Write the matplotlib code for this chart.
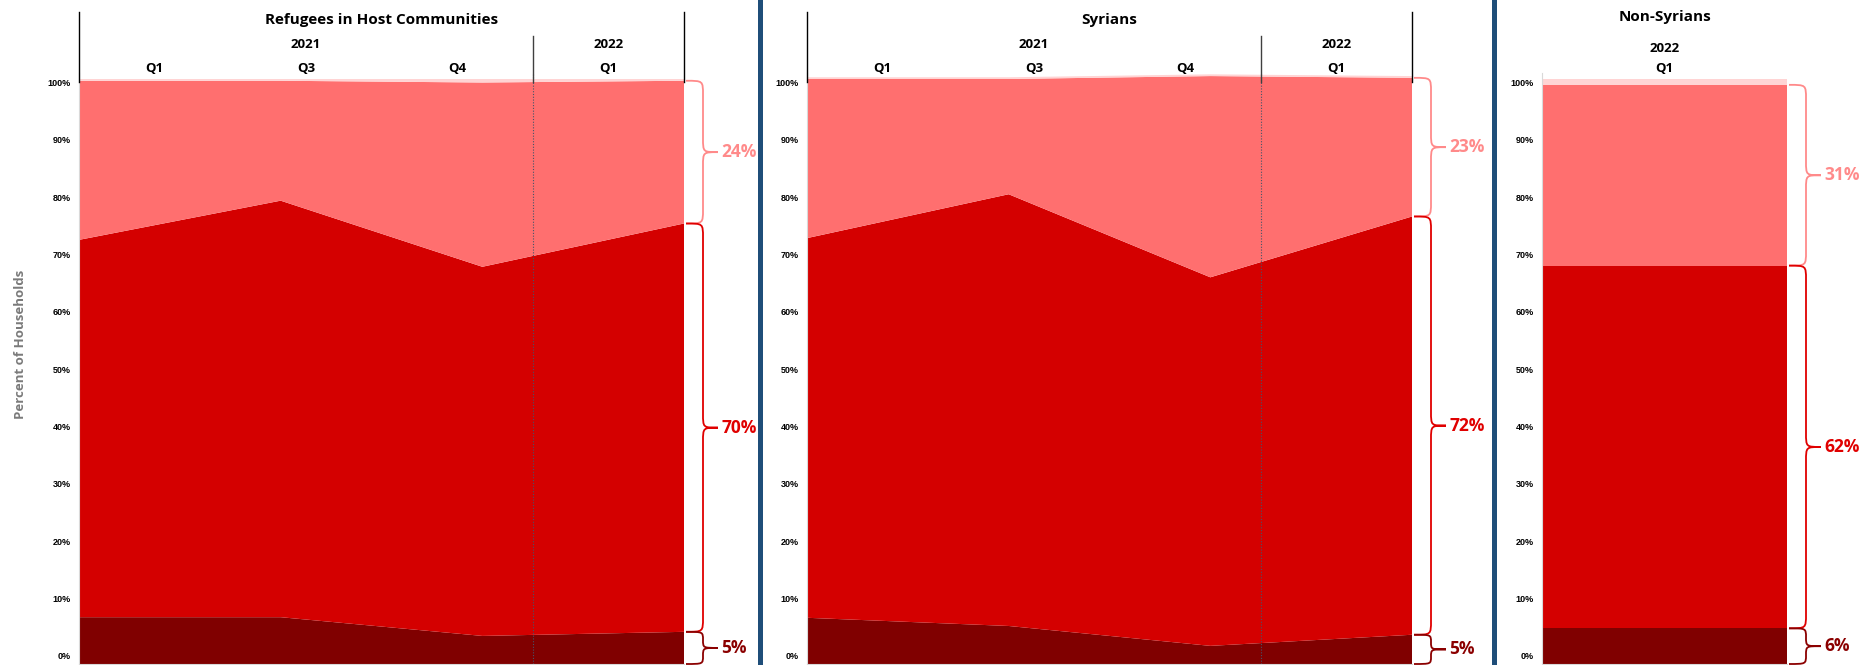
import numpy as np
import matplotlib.pyplot as plt
from matplotlib.path import Path
from matplotlib.patches import PathPatch
from matplotlib.lines import Line2D
from matplotlib.transforms import blended_transform_factory

# ---- data (percent of households, stacked bottom -> top) ----
quarters = ['Q1', 'Q3', 'Q4', 'Q1']
years = ['2021', '2022']

host_dark = [8.0, 8.0, 4.8, 5.5]
host_red = [64.5, 71.2, 63.1, 69.8]
host_salmon = [27.2, 20.5, 31.5, 24.4]
host_pink = [0.3, 0.3, 0.6, 0.3]
host_labels = ['5%', '70%', '24%']

syr_dark = [7.9, 6.5, 3.1, 5.0]
syr_red = [64.9, 73.8, 63.0, 71.5]
syr_salmon = [27.2, 19.7, 34.4, 23.7]
syr_pink = [0.3, 0.3, 0.3, 0.3]
syr_labels = ['5%', '72%', '23%']

non_dark = [6.1]
non_red = [62.0]
non_salmon = [30.9]
non_pink = [1.0]
non_labels = ['6%', '62%', '31%']

panel_titles = ['Refugees in Host Communities', 'Syrians', 'Non-Syrians']

c_dark = '#800000'
c_red = '#d40000'
c_salmon = '#ff6f6f'
c_pink = '#ffd4d4'
brace_colors = ['#8b0000', '#e00000', '#ff8a8a']

W, H = 1872, 665
Y0 = 664.0
PPU = 5.85
YMAX = 101.0

plt.rcParams['font.family'] = ['Open Sans', 'DejaVu Sans']

fig = plt.figure(figsize=(W / 100, H / 100), dpi=100)


def fy(py):
    return 1 - py / H


def add_axes(left, right):
    top = Y0 - YMAX * PPU
    return fig.add_axes([left / W, fy(Y0), (right - left) / W, (Y0 - top) / H])


def style_axes(ax):
    ax.set_ylim(0, YMAX)
    ks = np.arange(11)
    ax.set_yticks(1.42 + 9.795 * ks)
    ax.set_yticklabels(['%d%%' % (10 * k) for k in ks], fontfamily='Liberation Sans',
                       fontweight='bold', fontsize=6.5)
    ax.tick_params(axis='y', length=0, pad=6)
    ax.set_xticks([])
    for s in ['top', 'right']:
        ax.spines[s].set_visible(False)
    for s in ['left', 'bottom']:
        ax.spines[s].set_color('#d9d9d9')
        ax.spines[s].set_linewidth(0.8)


def to_fig(ax, x, v):
    p = ax.transData.transform((x, v))
    return fig.transFigure.inverted().transform(p)


def brace(ax, xr, v_top, v_bot, color, label):
    (fx0, ft), (_, fb) = to_fig(ax, xr, v_top), to_fig(ax, xr, v_bot)
    x0 = fx0 * W + 2
    yt, yb = (1 - ft) * H, (1 - fb) * H
    x1 = x0 + 17
    x2 = x0 + 32
    ym = (yt + yb) / 2
    r = min(14, (yb - yt) / 4)
    verts = [(x0, yt), (x1, yt), (x1, yt), (x1, yt + r),
             (x1, ym - r),
             (x1, ym), (x1, ym), (x2, ym),
             (x1, ym), (x1, ym), (x1, ym + r),
             (x1, yb - r),
             (x1, yb), (x1, yb), (x0, yb)]
    codes = [Path.MOVETO, Path.CURVE4, Path.CURVE4, Path.CURVE4, Path.LINETO,
             Path.CURVE4, Path.CURVE4, Path.CURVE4,
             Path.CURVE4, Path.CURVE4, Path.CURVE4, Path.LINETO,
             Path.CURVE4, Path.CURVE4, Path.CURVE4]
    verts = [(x / W, fy(y)) for x, y in verts]
    fig.add_artist(PathPatch(Path(verts, codes), facecolor='none', edgecolor=color,
                             lw=1.3, transform=fig.transFigure))
    fig.text((x2 + 3) / W, fy(ym), label, color=color, fontsize=12.5, fontweight='bold',
             ha='left', va='center')


def vline(px, top, bottom, **kw):
    fig.add_artist(Line2D([px / W, px / W], [fy(top), fy(bottom)], **kw))


def quarter_panel(left, right, title, dark, red, salmon, pink, labels):
    ax = add_axes(left, right)
    x = np.arange(len(dark))
    ax.stackplot(x, dark, red, salmon, pink, colors=[c_dark, c_red, c_salmon, c_pink], lw=0)
    ax.set_xlim(0, 3)
    style_axes(ax)
    ax.axvline(2.25, color='#44546a', ls=(0, (1, 1.5)), lw=0.8)
    tr = blended_transform_factory(ax.transData, fig.transFigure)
    ax.text(1.5, fy(20), title, transform=tr, ha='center', va='center',
            fontsize=11, fontweight='bold')
    ax.text(1.125, fy(45), years[0], transform=tr, ha='center', va='center',
            fontsize=9.5, fontweight='bold')
    ax.text(2.625, fy(45), years[1], transform=tr, ha='center', va='center',
            fontsize=9.5, fontweight='bold')
    for i, q in enumerate(quarters):
        ax.text(0.375 + 0.75 * i, fy(68), q, transform=tr, ha='center', va='center',
                fontsize=9.5, fontweight='bold')
    vline(left, 12, 82, color='black', lw=1)
    vline(right, 12, 82, color='black', lw=1)
    vline(left + 0.75 * (right - left), 36, 82, color='#404040', lw=1)
    d, r, s = dark[-1], red[-1], salmon[-1]
    brace(ax, 3, d + r + s, d + r, brace_colors[2], labels[2])
    brace(ax, 3, d + r, d, brace_colors[1], labels[1])
    brace(ax, 3, d, 0, brace_colors[0], labels[0])
    return ax


ax1 = quarter_panel(79, 684, panel_titles[0], host_dark, host_red, host_salmon, host_pink,
                    host_labels)
ax2 = quarter_panel(807, 1412, panel_titles[1], syr_dark, syr_red, syr_salmon, syr_pink,
                    syr_labels)

# Non-Syrians: single quarter
ax3 = add_axes(1542, 1787)
bottom = 0
for vals, c in zip([non_dark, non_red, non_salmon, non_pink], [c_dark, c_red, c_salmon, c_pink]):
    ax3.bar([0], vals, width=1, bottom=bottom, color=c, lw=0)
    bottom = bottom + vals[0]
ax3.set_xlim(-0.5, 0.5)
style_axes(ax3)
tr3 = blended_transform_factory(ax3.transData, fig.transFigure)
ax3.text(0, fy(17), panel_titles[2], transform=tr3, ha='center', va='center',
         fontsize=11, fontweight='bold')
ax3.text(0, fy(48), years[1], transform=tr3, ha='center', va='center',
         fontsize=9.5, fontweight='bold')
ax3.text(0, fy(68), quarters[3], transform=tr3, ha='center', va='center',
         fontsize=9.5, fontweight='bold')
d, r, s = non_dark[0], non_red[0], non_salmon[0]
brace(ax3, 0.5, d + r + s, d + r, brace_colors[2], non_labels[2])
brace(ax3, 0.5, d + r, d, brace_colors[1], non_labels[1])
brace(ax3, 0.5, d, 0, brace_colors[0], non_labels[0])

# panel separators
vline(760, 0, H, color='#1f4e79', lw=3.6)
vline(1494, 0, H, color='#1f4e79', lw=3.6)

fig.text(21 / W, fy(344), 'Percent of Households', rotation=90, ha='center', va='center',
         color='#7a7a7a', fontsize=9.5, fontweight='bold')

fig.savefig('out.png', dpi=100)
